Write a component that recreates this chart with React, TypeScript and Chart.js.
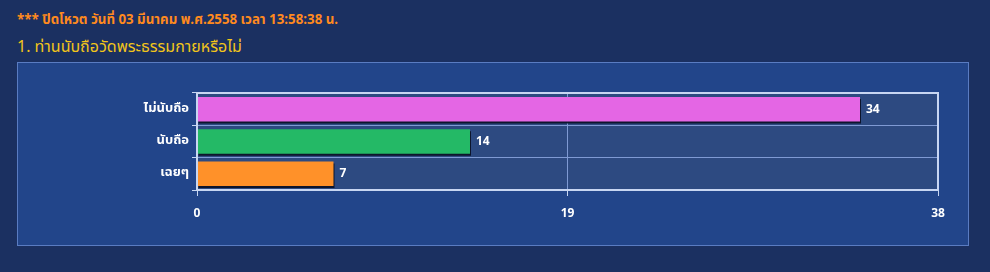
import React, { useEffect, useRef } from "react";
import { Chart, registerables } from "chart.js";

Chart.register(...registerables);

const categories = ["ไม่นับถือ", "นับถือ", "เฉยๆ"];
const values = [34, 14, 7];
const barColors = ["#e466e4", "#24b966", "#ff9129"];
const xTicks = [0, 19, 38];
const headerNote = "*** ปิดโหวต วันที่ 03 มีนาคม พ.ศ.2558 เวลา 13:58:38 น.";
const question = "1. ท่านนับถือวัดพระธรรมกายหรือไม่";

const FONT = "Tahoma, Verdana, 'Noto Sans Thai', 'DejaVu Sans', sans-serif";

const plotBg = {
  id: "plotBg",
  beforeDraw(chart: any) {
    const { ctx, chartArea: a } = chart;
    ctx.save();
    ctx.fillStyle = "#2d4a81";
    ctx.fillRect(a.left, a.top, a.right - a.left, a.bottom - a.top);
    ctx.restore();
  },
  beforeDatasetDraw(chart: any) {
    const ctx = chart.ctx;
    ctx.save();
    ctx.shadowColor = "rgba(12,18,40,0.95)";
    ctx.shadowOffsetX = 1;
    ctx.shadowOffsetY = 2;
    ctx.shadowBlur = 0;
  },
  afterDatasetDraw(chart: any) {
    chart.ctx.restore();
  },
  afterDatasetsDraw(chart: any) {
    const { ctx, chartArea: a } = chart;
    const meta = chart.getDatasetMeta(0);
    ctx.save();
    ctx.fillStyle = "#ffffff";
    ctx.font = "bold 12px " + FONT;
    ctx.textBaseline = "middle";
    ctx.textAlign = "left";
    meta.data.forEach((bar: any, i: number) => {
      ctx.fillText(String(values[i]), bar.x + 6, bar.y + 1);
    });
    ctx.strokeStyle = "#c8d6f2";
    ctx.lineWidth = 2;
    ctx.strokeRect(a.left, a.top, a.right - a.left, a.bottom - a.top);
    ctx.restore();
  },
};

export default function App() {
  const ref = useRef<HTMLCanvasElement>(null);
  useEffect(() => {
    if (!ref.current) return;
    const chart = new Chart(ref.current, {
      type: "bar",
      data: {
        labels: categories,
        datasets: [
          {
            data: values,
            backgroundColor: barColors,
            borderWidth: 0,
            barPercentage: 0.76,
            categoryPercentage: 1,
          },
        ],
      },
      options: {
        indexAxis: "y",
        animation: false,
        responsive: false,
        maintainAspectRatio: false,
        events: [],
        layout: { padding: { left: 0, right: 30, top: 30, bottom: 0 } },
        plugins: { legend: { display: false }, tooltip: { enabled: false } },
        scales: {
          x: {
            min: 0,
            max: 38,
            afterBuildTicks: (s: any) => {
              s.ticks = xTicks.map((v) => ({ value: v }));
            },
            afterFit: (s: any) => {
              s.height = 55;
            },
            grid: {
              color: "#7f9ad3",
              tickColor: "#c8d6f2",
              tickLength: 6,
              lineWidth: 1,
            },
            border: { display: false },
            ticks: {
              color: "#ffffff",
              padding: 11,
              font: { family: FONT, size: 12, weight: "bold" },
              maxRotation: 0,
            },
          },
          y: {
            afterFit: (s: any) => {
              s.width = 179;
            },
            grid: {
              color: "#7f9ad3",
              tickColor: "#c8d6f2",
              tickLength: 5,
              lineWidth: 1,
            },
            border: { display: false },
            ticks: {
              color: "#ffffff",
              padding: 3,
              font: { family: FONT, size: 13, weight: "bold" },
            },
          },
        },
      },
      plugins: [plotBg],
    });
    return () => chart.destroy();
  }, []);

  return (
    <div
      style={{
        position: "fixed",
        left: 0,
        top: 0,
        width: 990,
        height: 272,
        background: "#1b3061",
        fontFamily: FONT,
        overflow: "hidden",
      }}
    >
      <div
        style={{
          position: "absolute",
          left: 17,
          top: 10,
          color: "#ff8a1e",
          fontWeight: "bold",
          fontSize: 13.3,
          whiteSpace: "nowrap",
        }}
      >
        {headerNote}
      </div>
      <div
        style={{
          position: "absolute",
          left: 17,
          top: 35,
          color: "#f2c51a",
          fontSize: 16,
          whiteSpace: "nowrap",
        }}
      >
        {question}
      </div>
      <div
        style={{
          position: "absolute",
          left: 17,
          top: 62,
          width: 950,
          height: 182,
          border: "1px solid #5a7cc2",
          background: "#22458a",
        }}
      >
        <canvas ref={ref} width={950} height={182} style={{ display: "block" }} />
      </div>
    </div>
  );
}
